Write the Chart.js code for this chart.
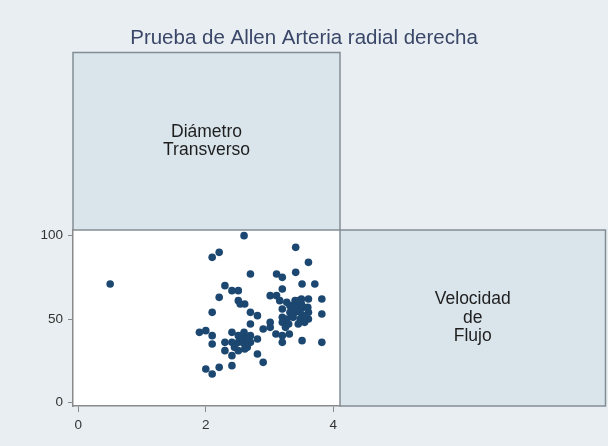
<!DOCTYPE html>
<html>
<head>
<meta charset="utf-8">
<script src="https://cdn.jsdelivr.net/npm/chart.js@4/dist/chart.umd.min.js"></script>
<style>
  html, body { margin: 0; padding: 0; background: #e8eef1; }
  canvas { display: block; }
</style>
</head>
<body>
<canvas id="c" width="608" height="446"></canvas>
<script>
// Diámetro transverso (x) and velocidad de flujo (y), one entry per patient
const diametro = [
  0.50, 2.60, 2.10, 2.21, 3.41, 3.61, 2.70, 3.11, 3.20, 3.41,
  2.30, 2.41, 2.51, 3.20, 3.51, 3.71, 2.21, 2.51, 2.54, 2.61,
  3.01, 3.11, 3.16, 3.27, 3.32, 3.40, 3.50, 3.61, 3.82, 3.45,
  3.53, 3.20, 3.32, 3.40, 3.48, 3.61, 3.82, 2.10, 2.70, 2.81,
  3.20, 3.27, 3.37, 3.48, 3.61, 3.20, 3.01, 2.70, 2.90, 3.01,
  1.90, 2.00, 2.10, 2.41, 2.51, 2.61, 2.70, 2.81, 3.10, 3.20,
  3.31, 3.20, 3.51, 3.82, 2.10, 2.30, 2.41, 2.51, 2.61, 2.70,
  2.30, 2.41, 2.51, 2.61, 2.81, 2.90, 2.41, 2.00, 2.10, 2.21,
  3.30, 3.45, 3.55, 3.40, 3.50, 3.60, 2.55, 2.65, 2.45, 2.60,
  3.25, 3.35, 3.55, 2.58, 2.66, 3.46
];
const velocidad = [
  71, 100, 87, 90, 93, 84, 77, 77, 75, 78,
  70, 67, 67, 68, 71, 71, 63, 61, 59, 59,
  64, 64, 61, 60, 58, 61, 62, 62, 62, 58,
  57, 56, 54, 54, 54, 54, 53, 54, 54, 52,
  51, 50, 51, 50, 50, 48, 48, 47, 44, 45,
  42, 43, 40, 42, 40, 39, 40, 38, 41, 40,
  41, 36, 37, 36, 35, 36, 36, 36, 35, 36,
  31, 28, 31, 32, 29, 24, 22, 20, 17, 21,
  47, 47, 48, 57, 59, 57, 38, 33, 33, 42,
  45, 52, 52, 36, 38, 61
];

const xTicks = [0, 2, 4];
const yTicks = [0, 50, 100];
const titleText = 'Prueba de Allen Arteria radial derecha';
const xVarLabel = ['Diámetro', 'Transverso'];
const yVarLabel = ['Velocidad', 'de', 'Flujo'];

const FONT = '"Liberation Sans", Arial, Helvetica, sans-serif';
const BG = '#e8eef1';
const PANEL = '#d9e4eb';
const PANEL_EDGE = '#828e95';
const MARKER = '#1b4770';

const points = diametro.map((x, i) => ({ x: x, y: velocidad[i] }));

// Scatter-matrix frame: variable-name panels on the diagonal, white plot cell
const matrixFrame = {
  id: 'matrixFrame',
  beforeDraw(chart) {
    const ctx = chart.ctx;
    const { left, top, right, bottom } = chart.chartArea;
    const panelTop = 52.5;
    const panelRight = 605.5;
    ctx.save();
    ctx.fillStyle = BG;
    ctx.fillRect(0, 0, chart.width, chart.height);

    ctx.fillStyle = PANEL;
    ctx.fillRect(left, panelTop, right - left, top - panelTop);
    ctx.fillRect(right, top, panelRight - right, bottom - top);

    // plot cell
    ctx.fillStyle = '#ffffff';
    ctx.fillRect(left, top, right - left, bottom - top);

    // panel outlines
    ctx.lineWidth = 1.5;
    ctx.strokeStyle = PANEL_EDGE;
    ctx.strokeRect(left, panelTop, right - left, top - panelTop);
    ctx.strokeRect(right, top, panelRight - right, bottom - top);

    // variable names
    ctx.fillStyle = '#1e1e1e';
    ctx.font = '17.5px ' + FONT;
    ctx.textAlign = 'center';
    ctx.textBaseline = 'middle';
    const lh = 18.5;
    const cx1 = (left + right) / 2, cy1 = (panelTop + top) / 2;
    xVarLabel.forEach((t, i) => {
      ctx.fillText(t, cx1, cy1 + (i - (xVarLabel.length - 1) / 2) * lh);
    });
    const cx2 = (right + panelRight) / 2, cy2 = (top + bottom) / 2;
    yVarLabel.forEach((t, i) => {
      ctx.fillText(t, cx2, cy2 + (i - (yVarLabel.length - 1) / 2) * lh);
    });
    ctx.restore();
  }
};

new Chart(document.getElementById('c'), {
  type: 'scatter',
  data: {
    datasets: [{
      data: points,
      backgroundColor: MARKER,
      borderWidth: 0,
      pointRadius: 3.8,
      pointHoverRadius: 3.8
    }]
  },
  options: {
    responsive: false,
    animation: false,
    events: [],
    layout: { padding: 0 },
    plugins: {
      legend: { display: false },
      tooltip: { enabled: false },
      title: {
        display: true,
        text: titleText,
        color: '#3a4768',
        font: { family: FONT, size: 20.5, weight: 'normal', lineHeight: 1.2 },
        padding: { top: 26, bottom: 179.4 }
      }
    },
    scales: {
      x: {
        type: 'linear',
        position: 'bottom',
        min: -0.083,
        max: 4.105,
        afterBuildTicks: s => { s.ticks = xTicks.map(v => ({ value: v })); },
        afterFit: s => { s.height = 40; },
        grid: { display: true, drawOnChartArea: false, drawTicks: true, tickLength: 6, color: '#8a8a8a', lineWidth: 1 },
        border: { display: true, color: '#8a8a8a', width: 1.5 },
        ticks: { color: '#333333', padding: 5, maxRotation: 0, font: { family: FONT, size: 13.5 } }
      },
      y: {
        type: 'linear',
        position: 'left',
        min: -2.2,
        max: 103.4,
        afterBuildTicks: s => { s.ticks = yTicks.map(v => ({ value: v })); },
        afterFit: s => { s.width = 73; },
        grid: { display: true, drawOnChartArea: false, drawTicks: true, tickLength: 5, color: '#8a8a8a', lineWidth: 1 },
        border: { display: true, color: '#8a8a8a', width: 1.5 },
        ticks: { color: '#333333', padding: 5, font: { family: FONT, size: 13.5 } }
      },
      // empty right-hand column that holds the lower-right diagonal cell
      yRight: {
        type: 'linear',
        position: 'right',
        display: true,
        afterFit: s => { s.width = 268; },
        grid: { display: false },
        border: { display: false },
        ticks: { display: false }
      }
    }
  },
  plugins: [matrixFrame]
});
</script>
</body>
</html>
